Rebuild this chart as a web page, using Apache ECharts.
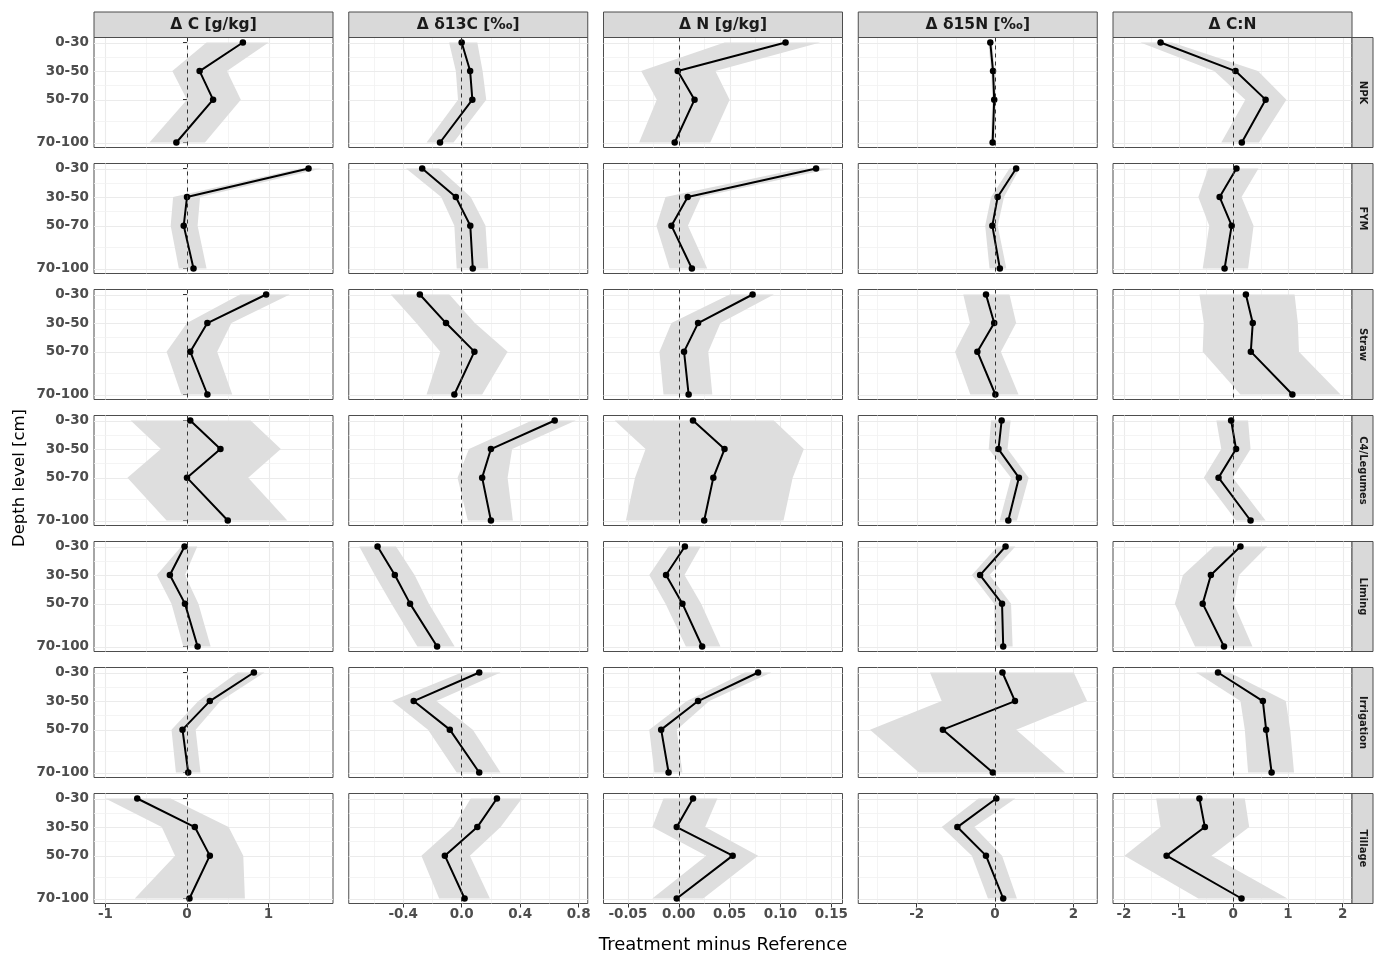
<!DOCTYPE html>
<html>
<head>
<meta charset="utf-8">
<script src="https://cdn.jsdelivr.net/npm/echarts@6/dist/echarts.min.js"></script>
<style>
  html, body { margin: 0; padding: 0; background: #ffffff; }
  #chart { width: 1379px; height: 958px; }
</style>
</head>
<body>
<div id="chart"></div>
<script>
// ---- facet labels and depth levels ----
const variables = ['Δ C [g/kg]', 'Δ δ13C [‰]', 'Δ N [g/kg]', 'Δ δ15N [‰]', 'Δ C:N'];
const treatments = ['NPK', 'FYM', 'Straw', 'C4/Legumes', 'Liming', 'Irrigation', 'Tillage'];
const depthLabels = ['0-30', '30-50', '50-70', '70-100'];
const depthPos = [30, 50, 70, 100];

// ---- x tick marks per variable ----
const xTicks = [[-1, 0, 1], [-0.4, 0, 0.4, 0.8], [-0.05, 0, 0.05, 0.1, 0.15], [-2, 0, 2], [-2, -1, 0, 1, 2]];
const xTickDecimals = [0, 1, 2, 0, 0];

// ---- treatment minus reference: rows = treatments, columns = depth levels ----
const cMean = [[0.685, 0.155, 0.32, -0.13], [1.49, 0.0, -0.04, 0.08], [0.97, 0.25, 0.04, 0.25], [0.04, 0.41, 0.0, 0.5], [-0.03, -0.21, -0.025, 0.13], [0.82, 0.28, -0.055, 0.015], [-0.61, 0.096, 0.28, 0.03]];
const cLow = [[0.24, -0.18, 0.0, -0.46], [1.38, -0.17, -0.2, -0.1], [0.65, 0.0, -0.25, -0.07], [-0.69, -0.32, -0.73, -0.25], [-0.07, -0.37, -0.19, -0.045], [0.62, 0.14, -0.19, -0.136], [-1.0, -0.31, -0.146, -0.64]];
const cHigh = [[1.0, 0.49, 0.66, 0.22], [1.65, 0.16, 0.13, 0.24], [1.26, 0.545, 0.37, 0.555], [0.78, 1.15, 0.75, 1.23], [0.126, -0.025, 0.14, 0.29], [0.95, 0.41, 0.106, 0.166], [-0.2, 0.51, 0.69, 0.71]];

const d13cMean = [[0.0, 0.058, 0.073, -0.148], [-0.27, -0.04, 0.059, 0.076], [-0.286, -0.107, 0.087, -0.05], [0.636, 0.2, 0.14, 0.2], [-0.575, -0.457, -0.353, -0.168], [0.12, -0.328, -0.081, 0.12], [0.241, 0.107, -0.115, 0.02]];
const d13cLow = [[-0.086, -0.04, -0.025, -0.24], [-0.38, -0.14, -0.05, -0.034], [-0.485, -0.31, -0.146, -0.24], [0.48, 0.05, -0.028, 0.042], [-0.7, -0.594, -0.48, -0.303], [0.0, -0.477, -0.23, -0.034], [0.062, -0.056, -0.275, -0.154]];
const d13cHigh = [[0.107, 0.143, 0.168, -0.056], [-0.154, 0.062, 0.163, 0.182], [-0.084, 0.09, 0.314, 0.14], [0.78, 0.345, 0.314, 0.35], [-0.449, -0.322, -0.224, -0.048], [0.266, -0.174, 0.076, 0.266], [0.412, 0.266, 0.056, 0.193]];

const nMean = [[0.105, -0.001, 0.0155, -0.004], [0.135, 0.0088, -0.0072, 0.0129], [0.0726, 0.019, 0.0052, 0.0097], [0.014, 0.045, 0.034, 0.025], [0.006, -0.0125, 0.0036, 0.023], [0.078, 0.019, -0.0173, -0.01], [0.014, -0.002, 0.053, -0.002]];
const nLow = [[0.045, -0.037, -0.0216, -0.039], [0.12, -0.013, -0.022, -0.009], [0.05, -0.0072, -0.019, -0.015], [-0.063, -0.0326, -0.043, -0.052], [-0.01, -0.029, -0.013, 0.007], [0.065, 0.008, -0.029, -0.024], [-0.015, -0.026, 0.027, -0.026]];
const nHigh = [[0.139, 0.036, 0.05, 0.031], [0.15, 0.0217, 0.009, 0.028], [0.0935, 0.041, 0.029, 0.033], [0.0935, 0.123, 0.112, 0.103], [0.0215, 0.0056, 0.022, 0.041], [0.091, 0.03, -0.002, 0.0036], [0.038, 0.026, 0.078, 0.024]];

const d15nMean = [[-0.12, -0.05, -0.02, -0.06], [0.54, 0.068, -0.068, 0.124], [-0.23, -0.02, -0.45, 0.01], [0.17, 0.09, 0.61, 0.34], [0.27, -0.38, 0.18, 0.21], [0.19, 0.51, -1.33, -0.056], [0.034, -0.96, -0.23, 0.21]];
const d15nLow = [[-0.17, -0.1, -0.07, -0.11], [0.37, -0.1, -0.25, -0.14], [-0.81, -0.64, -1.02, -0.63], [-0.1, -0.16, 0.41, 0.12], [0.06, -0.59, -0.02, 0.0], [-1.66, -1.36, -3.19, -1.94], [-0.42, -1.36, -0.59, -0.18]];
const d15nHigh = [[-0.07, 0.0, 0.03, -0.01], [0.63, 0.23, 0.07, 0.29], [0.37, 0.54, 0.15, 0.6], [0.4, 0.32, 0.86, 0.56], [0.52, -0.14, 0.41, 0.45], [2.01, 2.35, 0.54, 1.79], [0.52, -0.53, 0.18, 0.56]];

const cnMean = [[-1.33, 0.04, 0.59, 0.155], [0.057, -0.25, -0.03, -0.16], [0.23, 0.355, 0.32, 1.08], [-0.04, 0.05, -0.27, 0.315], [0.13, -0.41, -0.56, -0.17], [-0.28, 0.54, 0.6, 0.7], [-0.62, -0.52, -1.22, 0.15]];
const cnLow = [[-1.7, -0.35, 0.22, -0.22], [-0.46, -0.64, -0.44, -0.56], [-0.62, -0.54, -0.56, 0.13], [-0.31, -0.22, -0.54, 0.05], [-0.355, -0.92, -1.07, -0.7], [-0.68, 0.13, 0.21, 0.27], [-1.41, -1.33, -1.99, -0.64]];
const cnHigh = [[-1.12, 0.45, 0.97, 0.47], [0.46, 0.15, 0.37, 0.27], [1.12, 1.18, 1.2, 1.96], [0.27, 0.315, -0.01, 0.59], [0.62, 0.105, 0.01, 0.35], [-0.07, 0.96, 1.04, 1.11], [0.21, 0.29, -0.4, 0.99]];

const meanByVar = [cMean, d13cMean, nMean, d15nMean, cnMean];
const lowByVar = [cLow, d13cLow, nLow, d15nLow, cnLow];
const highByVar = [cHigh, d13cHigh, nHigh, d15nHigh, cnHigh];

// ---- layout ----
const xRange = [[-1.14, 1.79], [-0.772, 0.862], [-0.074, 0.161], [-3.49, 2.61], [-2.2, 2.17]];
const yMin = 26.5, yMax = 103.5;
const left0 = 94, colPitch = 254.75, panelW = 239;
const top0 = 37.5, rowPitch = 126, panelH = 110;
const stripTop = 12, stripRightW = 21;
const labelFont = '"DejaVu Sans", sans-serif';
const axisTextColor = '#4d4d4d';
const borderColor = '#4d4d4d';

// minor grid lines sit halfway between the major ticks
function minorBreaks(ticks, range) {
  const step = ticks[1] - ticks[0];
  const out = [];
  for (let v = ticks[0] - step / 2; v <= range[1] + 1e-9; v += step) {
    if (v >= range[0]) out.push(+v.toFixed(6));
  }
  return out;
}
const yMinor = [40, 60, 85];

function renderGridLine(params, api) {
  const cs = params.coordSys;
  const v = api.value(0), dir = api.value(1), minor = api.value(2);
  let shape;
  if (dir === 0) {
    const x = Math.round(api.coord([v, 60])[0]) + 0.5;
    shape = { x1: x, y1: cs.y, x2: x, y2: cs.y + cs.height };
  } else {
    const y = Math.round(api.coord([0, v])[1]) + 0.5;
    shape = { x1: cs.x, y1: y, x2: cs.x + cs.width, y2: y };
  }
  return {
    type: 'line', shape: shape,
    style: { stroke: minor ? '#f1f1f1' : '#ebebeb', lineWidth: minor ? 0.8 : 1.1 }
  };
}

// the confidence band is one polygon: lower bounds downwards, upper bounds back up
function renderRibbon(params, api) {
  if (params.dataIndexInside !== 0) return;
  const n = params.dataInsideLength;
  const pts = [];
  for (let i = 0; i < n; i++) pts.push(api.coord([api.value(0, i), api.value(2, i)]));
  for (let i = n - 1; i >= 0; i--) pts.push(api.coord([api.value(1, i), api.value(2, i)]));
  return { type: 'polygon', shape: { points: pts }, style: { fill: '#dedede' } };
}

const grids = [], xAxes = [], yAxes = [], series = [], graphics = [];

treatments.forEach((tr, r) => {
  variables.forEach((vn, c) => {
    const k = r * variables.length + c;
    const gl = left0 + c * colPitch;
    const gt = top0 + r * rowPitch;
    const bottomRow = r === treatments.length - 1;
    grids.push({
      left: gl, top: gt, width: panelW, height: panelH,
      show: true, borderColor: borderColor, borderWidth: 1, backgroundColor: '#ffffff',
      containLabel: false, outerBoundsMode: 'none'
    });
    xAxes.push({
      gridIndex: k, type: 'value', min: xRange[c][0], max: xRange[c][1],
      axisLine: { show: false }, splitLine: { show: false },
      axisTick: { show: bottomRow, customValues: xTicks[c], length: 4, lineStyle: { color: '#333333' } },
      axisLabel: {
        show: bottomRow, customValues: xTicks[c], margin: 4,
        formatter: v => v.toFixed(xTickDecimals[c]),
        fontFamily: labelFont, fontWeight: 'bold', fontSize: 13.5, color: axisTextColor
      }
    });
    yAxes.push({
      gridIndex: k, type: 'value', inverse: true, min: yMin, max: yMax,
      axisLine: { show: false }, splitLine: { show: false },
      axisTick: { show: c === 0, customValues: depthPos, length: 4, lineStyle: { color: '#333333' } },
      axisLabel: {
        show: c === 0, customValues: depthPos, margin: 5,
        formatter: v => depthLabels[depthPos.indexOf(v)],
        fontFamily: labelFont, fontWeight: 'bold', fontSize: 13.5, color: axisTextColor
      }
    });

    const gridData = [];
    xTicks[c].forEach(v => gridData.push([v, 0, 0]));
    minorBreaks(xTicks[c], xRange[c]).forEach(v => gridData.push([v, 0, 1]));
    depthPos.forEach(v => gridData.push([v, 1, 0]));
    yMinor.forEach(v => gridData.push([v, 1, 1]));
    series.push({
      type: 'custom', xAxisIndex: k, yAxisIndex: k, silent: true, z: 1,
      renderItem: renderGridLine, data: gridData
    });

    const lo = lowByVar[c][r], hi = highByVar[c][r], mu = meanByVar[c][r];
    series.push({
      type: 'custom', xAxisIndex: k, yAxisIndex: k, silent: true, z: 2,
      encode: { x: [0, 1], y: 2 },
      renderItem: renderRibbon,
      data: depthPos.map((d, i) => [lo[i], hi[i], d])
    });
    series.push({
      type: 'line', xAxisIndex: k, yAxisIndex: k, z: 3, silent: true,
      data: depthPos.map((d, i) => [mu[i], d]),
      symbol: 'circle', symbolSize: 6.5, showSymbol: true,
      itemStyle: { color: '#000000' },
      lineStyle: { color: '#000000', width: 2 },
      markLine: {
        silent: true, symbol: ['none', 'none'], label: { show: false },
        lineStyle: { type: [4, 4], color: '#333333', width: 1 },
        emphasis: { disabled: true },
        data: [{ xAxis: 0 }]
      }
    });

    // column strip on top
    if (r === 0) {
      graphics.push({
        type: 'rect', shape: { x: gl, y: stripTop, width: panelW, height: top0 - stripTop },
        style: { fill: '#d9d9d9', stroke: borderColor, lineWidth: 1 }, z: 10
      });
      graphics.push({
        type: 'text', x: gl + panelW / 2, y: (stripTop + top0) / 2, z: 11,
        style: {
          text: vn, align: 'center', verticalAlign: 'middle',
          font: 'bold 15.5px ' + labelFont, fill: '#1a1a1a'
        }
      });
    }
    // row strip on the right
    if (c === variables.length - 1) {
      const sx = gl + panelW;
      graphics.push({
        type: 'rect', shape: { x: sx, y: gt, width: stripRightW, height: panelH },
        style: { fill: '#d9d9d9', stroke: borderColor, lineWidth: 1 }, z: 10
      });
      graphics.push({
        type: 'text', x: sx + stripRightW / 2, y: gt + panelH / 2, rotation: -Math.PI / 2, z: 11,
        style: {
          text: tr, align: 'center', verticalAlign: 'middle',
          font: 'bold 10px ' + labelFont, fill: '#1a1a1a'
        }
      });
    }
  });
});

// axis titles
graphics.push({
  type: 'text', x: left0 + (4 * colPitch + panelW) / 2, y: 945, z: 11,
  style: { text: 'Treatment minus Reference', align: 'center', verticalAlign: 'middle', font: '18px ' + labelFont, fill: '#000000' }
});
graphics.push({
  type: 'text', x: 20, y: 478, rotation: Math.PI / 2, z: 11,
  style: { text: 'Depth level [cm]', align: 'center', verticalAlign: 'middle', font: '16.5px ' + labelFont, fill: '#000000' }
});

const chart = echarts.init(document.getElementById('chart'), null, { renderer: 'canvas' });
chart.setOption({
  backgroundColor: '#ffffff',
  animation: false,
  grid: grids,
  xAxis: xAxes,
  yAxis: yAxes,
  series: series,
  graphic: graphics
});
</script>
</body>
</html>
